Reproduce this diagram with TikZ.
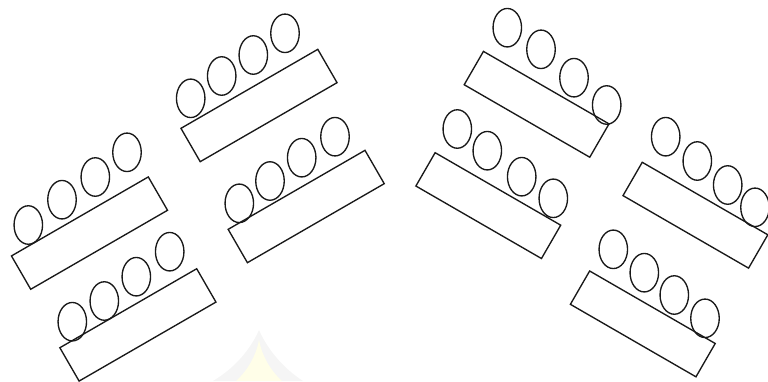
\documentclass[tikz,border=0pt]{standalone}
\usetikzlibrary{shapes.geometric}
\begin{document}
\begin{tikzpicture}[x=1pt,y=-1pt,
  tablebox/.style={draw=black!90,line width=1.35pt,rectangle,inner sep=0pt,minimum height=38.5pt},
  ltable/.style={tablebox,minimum width=158pt,rotate=30},
  rtable/.style={tablebox,minimum width=145pt,rotate=-30},
  seat/.style={draw=black!90,line width=1.35pt,ellipse,inner sep=0pt,minimum width=28.5pt,minimum height=38.5pt}]
\useasboundingbox (0,0) rectangle (768,381);
% faint watermark
\fill[gray!8] (213,381) .. controls (238,366) and (252,346) .. (259,330) .. controls (266,346) and (280,366) .. (303,381) -- cycle;
\fill[yellow!9] (236,381) .. controls (248,370) and (256,356) .. (259,340) .. controls (262,356) and (270,370) .. (282,381) -- cycle;
% left tables
\node[ltable] (t1) at (89.5,233.1) {};
\node[ltable] (t2) at (137.9,324.9) {};
\node[ltable] (t3) at (259,105.5) {};
\node[ltable] (t4) at (306.2,206.5) {};
% right tables
\node[rtable] (t5) at (536.6,104.3) {};
\node[rtable] (t6) at (488.3,205.6) {};
\node[rtable] (t7) at (695.4,215.2) {};
\node[rtable] (t8) at (642.8,323.9) {};
% seats
\foreach \p [count=\i] in {(28.3,225),(62,199.7),(95.3,177),(127,152.3)} \node[seat] (t1s\i) at \p {};
\foreach \p [count=\i] in {(72.3,321.7),(104.3,301),(136.3,276.7),(169.7,251.7)} \node[seat] (t2s\i) at \p {};
\foreach \p [count=\i] in {(190.7,98.3),(221.7,76),(253.3,55),(285,33.3)} \node[seat] (t3s\i) at \p {};
\foreach \p [count=\i] in {(239.3,203.3),(270,181),(301.7,157.7),(335,136.7)} \node[seat] (t4s\i) at \p {};
\foreach \p [count=\i] in {(507.3,27.7),(541,49.3),(574,77.7),(606.7,105)} \node[seat] (t5s\i) at \p {};
\foreach \p [count=\i] in {(457.3,129),(487.3,150.7),(521.7,176.7),(553.3,198.3)} \node[seat] (t6s\i) at \p {};
\foreach \p [count=\i] in {(665.7,136.7),(697.3,161),(727.7,185),(755,207.3)} \node[seat] (t7s\i) at \p {};
\foreach \p [count=\i] in {(613.3,249.3),(644.3,272.7),(674.3,295),(705,318.3)} \node[seat] (t8s\i) at \p {};
\end{tikzpicture}
\end{document}
